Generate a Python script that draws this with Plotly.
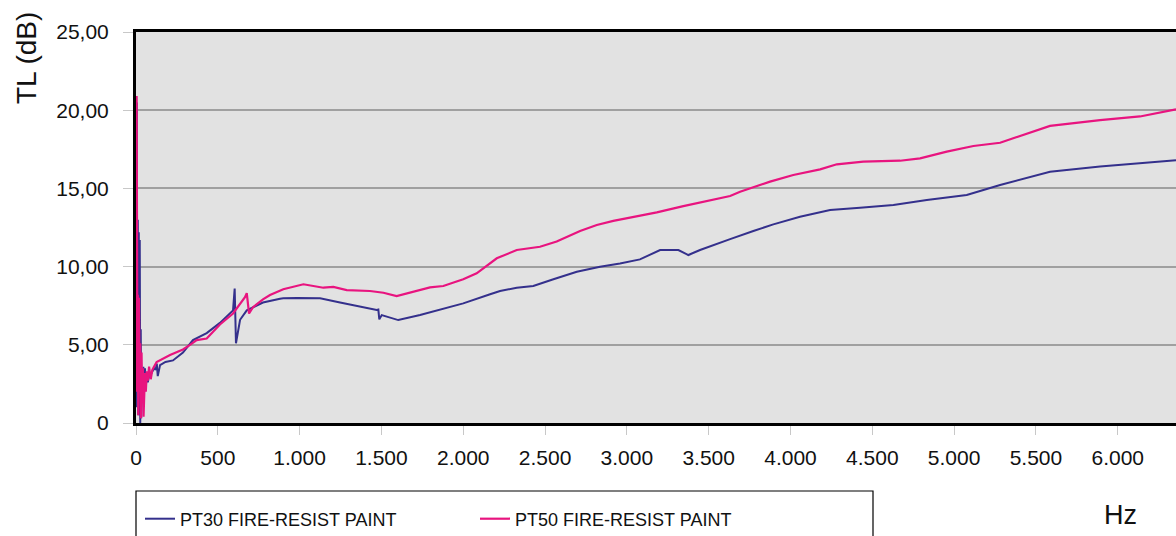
import plotly.graph_objects as go

# ---------------- data ----------------
pt30_hz = [0, 5, 8, 11, 14, 17, 20, 23, 26, 29, 32, 36, 40, 45, 50, 55, 60, 66, 72, 80,
           90, 100, 110, 120, 127, 133, 147, 180, 226, 287, 348, 432, 513, 593, 603, 611,
           625, 636, 677, 776, 880, 900, 982, 1125, 1247, 1349, 1471, 1481, 1487, 1502,
           1603, 1736, 1878, 2000, 2164, 2225, 2327, 2428, 2551, 2694, 2836, 2958, 3080,
           3142, 3203, 3315, 3376, 3447, 3528, 3631, 3773, 3895, 4058, 4242, 4425, 4629,
           4833, 5077, 5179, 5281, 5586, 5892, 6356]
pt30_db = [1.0, 20.5, 3.0, 13.0, 0.5, 12.2, 2.0, 11.7, 0.0, 6.0, 0.3, 2.5, 1.5, 3.6, 2.0,
           3.5, 2.4, 2.9, 2.6, 3.0, 3.1, 3.3, 3.5, 3.4, 3.8, 3.0, 3.7, 3.9, 4.0, 4.5, 5.3,
           5.75, 6.4, 7.2, 8.6, 5.1, 6.1, 6.6, 7.2, 7.7, 7.95, 7.97, 8.0, 7.97, 7.7, 7.48,
           7.22, 7.25, 6.63, 6.9, 6.58, 6.9, 7.29, 7.65, 8.23, 8.44, 8.65, 8.76, 9.19, 9.67,
           9.99, 10.2, 10.46, 10.74, 11.06, 11.06, 10.74, 11.06, 11.38, 11.76, 12.28, 12.7,
           13.19, 13.62, 13.77, 13.94, 14.26, 14.58, 14.9, 15.22, 16.07, 16.4, 16.8]

pt50_hz = [0, 4, 8, 11, 14, 18, 22, 26, 30, 34, 38, 42, 46, 50, 55, 60, 66, 72, 80, 90,
           100, 110, 126, 208, 287, 330, 371, 432, 513, 593, 666, 677, 691, 715, 776, 819,
           900, 1023, 1084, 1145, 1206, 1288, 1430, 1512, 1593, 1675, 1797, 1878, 1919,
           2000, 2082, 2164, 2205, 2327, 2469, 2571, 2714, 2816, 2917, 3019, 3183, 3345,
           3488, 3631, 3692, 3875, 4017, 4181, 4283, 4445, 4670, 4792, 4955, 5118, 5281,
           5586, 5892, 6136, 6356]
pt50_db = [2.0, 20.9, 5.0, 8.2, 0.5, 8.0, 2.0, 5.1, 0.3, 4.5, 1.3, 3.5, 0.4, 2.7, 3.2,
           2.0, 3.3, 2.7, 3.6, 2.8, 3.4, 3.6, 3.9, 4.35, 4.7, 5.0, 5.3, 5.4, 6.3, 7.0, 8.05,
           8.3, 7.0, 7.4, 7.9, 8.18, 8.55, 8.87, 8.76, 8.65, 8.7, 8.5, 8.44, 8.33, 8.12,
           8.33, 8.67, 8.76, 8.9, 9.19, 9.57, 10.2, 10.53, 11.06, 11.27, 11.6, 12.28, 12.66,
           12.92, 13.13, 13.47, 13.87, 14.21, 14.51, 14.79, 15.43, 15.86, 16.22, 16.54,
           16.71, 16.77, 16.92, 17.35, 17.71, 17.92, 19.0, 19.37, 19.6, 20.06]

series_names = ["PT30 FIRE-RESIST PAINT", "PT50 FIRE-RESIST PAINT"]

x_tickvals = [0, 500, 1000, 1500, 2000, 2500, 3000, 3500, 4000, 4500, 5000, 5500, 6000]
x_ticktext = ["0", "500", "1.000", "1.500", "2.000", "2.500", "3.000", "3.500",
              "4.000", "4.500", "5.000", "5.500", "6.000"]
y_tickvals = [0, 5, 10, 15, 20, 25]
y_ticktext = ["0", "5,00", "10,00", "15,00", "20,00", "25,00"]

# ---------------- styles ----------------
BLUE = "#34308c"
PINK = "#e8147f"
FONT = "Liberation Sans, Arial, sans-serif"

W, H = 1176, 536
ML, MR, MT, MB = 136, 0, 32, 113
PW, PH = W - ML - MR, H - MT - MB

def px_x(p):
    return (p - ML) / PW

def px_y(p):
    return (H - MB - p) / PH

fig = go.Figure()
fig.add_trace(go.Scatter(x=pt30_hz, y=pt30_db, mode="lines", name=series_names[0],
                         line=dict(color=BLUE, width=2)))
fig.add_trace(go.Scatter(x=pt50_hz, y=pt50_db, mode="lines", name=series_names[1],
                         line=dict(color=PINK, width=2.2)))

fig.update_layout(
    width=W, height=H,
    margin=dict(l=ML, r=MR, t=MT, b=MB, pad=0, autoexpand=False),
    paper_bgcolor="white", plot_bgcolor="#e2e2e2",
    font=dict(family=FONT, size=21, color="#111111"),
    showlegend=True,
    legend=dict(orientation="h", x=px_x(140), xanchor="left",
                y=px_y(519), yanchor="middle",
                bgcolor="rgba(0,0,0,0)", borderwidth=0,
                entrywidth=290, entrywidthmode="pixels",
                font=dict(family=FONT, size=18, color="#111111"),
                itemwidth=30),
    xaxis=dict(range=[0, 6356], tickvals=x_tickvals, ticktext=x_ticktext,
               showgrid=False, zeroline=False,
               showline=True, linecolor="black", linewidth=3, mirror=True,
               ticks="outside", ticklen=9, tickcolor="#c8c8c8", tickwidth=1,
               ticklabelstandoff=5, tickfont=dict(size=21)),
    yaxis=dict(range=[0, 25], tickvals=y_tickvals, ticktext=y_ticktext,
               showgrid=True, gridcolor="#a0a0a0", gridwidth=2, zeroline=False,
               showline=True, linecolor="black", linewidth=3, mirror=False,
               ticks="outside", ticklen=10, tickcolor="#c8c8c8", tickwidth=1,
               ticklabelstandoff=10, tickfont=dict(size=21)),
)

# legend frame (extends below the visible page)
fig.add_shape(type="rect", xref="paper", yref="paper",
              x0=px_x(136), x1=px_x(873), y0=px_y(560), y1=px_y(491),
              line=dict(color="black", width=1.2), fillcolor="rgba(0,0,0,0)")

# axis titles
fig.add_annotation(x=px_x(27), y=px_y(10), xref="paper", yref="paper",
                   text="TL (dB)", textangle=-90, showarrow=False,
                   xanchor="center", yanchor="top",
                   font=dict(family=FONT, size=28, color="#111111"))
fig.add_annotation(x=px_x(1120), y=px_y(515), xref="paper", yref="paper",
                   text="Hz", showarrow=False, xanchor="center", yanchor="middle",
                   font=dict(family=FONT, size=27, color="#111111"))

fig.write_html("out.html",
               config={"displayModeBar": False},
               post_script="document.body.style.margin='0';"
                           "document.body.style.overflow='hidden';")
